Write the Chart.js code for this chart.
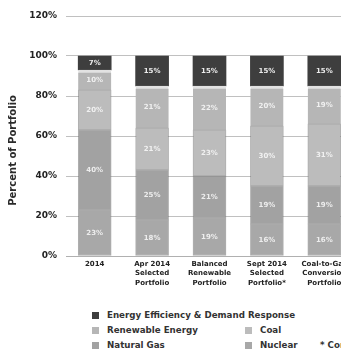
<!DOCTYPE html>
<html>
<head>
<meta charset="utf-8">
<script src="https://cdn.jsdelivr.net/npm/chart.js@4/dist/chart.umd.min.js"></script>
<style>
  html, body { margin: 0; padding: 0; background: #fff; }
  #wrap { position: relative; width: 341px; height: 352px; overflow: hidden; background: #fff; }
  #c { position: absolute; left: 0; top: 0; }
  .leg { position: absolute; font: bold 8.7px "DejaVu Sans", sans-serif; color: #333; white-space: nowrap; line-height: 10px; }
  .sw { position: absolute; width: 7px; height: 7px; }
</style>
</head>
<body>
<div id="wrap">
  <canvas id="c" width="370" height="300"></canvas>
  <div id="legend"></div>
</div>
<script>
// Portfolio categories (multi-line axis labels)
const categories = [
  ["2014"],
  ["Apr 2014", "Selected", "Portfolio"],
  ["Balanced", "Renewable", "Portfolio"],
  ["Sept 2014", "Selected", "Portfolio*"],
  ["Coal-to-Gas", "Conversion", "Portfolio"]
];

// Share of portfolio by resource type, in percent
const nuclear    = [23, 18, 19, 16, 16];
const naturalGas = [40, 25, 21, 19, 19];
const coal       = [20, 21, 23, 30, 31];
const renewable  = [10, 21, 22, 20, 19];
const efficiency = [7, 15, 15, 15, 15];

// Value axis
const yTicks = [0, 20, 40, 60, 80, 100, 120];

const seriesNames = {
  efficiency: "Energy Efficiency & Demand Response",
  renewable: "Renewable Energy",
  coal: "Coal",
  naturalGas: "Natural Gas",
  nuclear: "Nuclear"
};
const footnote = "* Contingent on approval";

const colors = {
  efficiency: "#3e3e3e",
  renewable: "#b6b6b6",
  coal: "#bcbcbc",
  naturalGas: "#a2a2a2",
  nuclear: "#a8a8a8"
};

const datasets = [
  { key: "nuclear", data: nuclear },
  { key: "naturalGas", data: naturalGas },
  { key: "coal", data: coal },
  { key: "renewable", data: renewable },
  { key: "efficiency", data: efficiency }
].map(d => ({
  label: seriesNames[d.key],
  data: d.data,
  backgroundColor: colors[d.key],
  borderColor: d.key === "renewable" ? "#e2e2e2" : "rgba(110,110,110,0.55)",
  borderWidth: d.key === "renewable" ? { top: 3, left: 0, right: 0, bottom: 0 }
             : (d.key === "efficiency" ? 0 : 1),
  borderSkipped: false,
  barThickness: 33
}));

// Percent labels centred in each stacked segment
const segmentLabels = {
  id: "segmentLabels",
  afterDatasetsDraw(chart) {
    const ctx = chart.ctx;
    ctx.save();
    ctx.font = "bold 7px 'DejaVu Sans', sans-serif";
    ctx.textAlign = "center";
    ctx.textBaseline = "middle";
    chart.data.datasets.forEach((ds, i) => {
      const meta = chart.getDatasetMeta(i);
      meta.data.forEach((bar, j) => {
        const v = ds.data[j];
        const cy = (bar.y + bar.base) / 2;
        ctx.fillStyle = i === 4 ? "rgba(255,255,255,0.9)" : "rgba(250,250,250,0.85)";
        ctx.fillText(v + "%", bar.x, cy);
      });
    });
    ctx.restore();
  }
};

// Rotated value-axis title
const axisTitle = {
  id: "axisTitle",
  afterDraw(chart) {
    const ctx = chart.ctx;
    const a = chart.chartArea;
    ctx.save();
    ctx.translate(13, a.top + (a.bottom - a.top) * 0.56);
    ctx.rotate(-Math.PI / 2);
    ctx.font = "bold 10px 'DejaVu Sans', sans-serif";
    ctx.fillStyle = "#2a2a2a";
    ctx.textAlign = "center";
    ctx.textBaseline = "middle";
    ctx.fillText("Percent of Portfolio", 0, 0);
    ctx.restore();
  }
};

new Chart(document.getElementById("c"), {
  type: "bar",
  data: { labels: categories, datasets },
  options: {
    responsive: false,
    animation: false,
    layout: { padding: { top: 16, right: 17, left: 0, bottom: 0 } },
    plugins: { legend: { display: false }, tooltip: { enabled: false } },
    scales: {
      x: {
        stacked: true,
        grid: { display: false, drawTicks: false },
        border: { display: true, color: "#b0b0b0" },
        ticks: {
          color: "#222",
          font: { family: "DejaVu Sans", size: 7, weight: "bold", lineHeight: 1.3 },
          padding: 4,
          maxRotation: 0,
          autoSkip: false
        },
        afterFit(s) { s.height = 44; }
      },
      y: {
        stacked: true,
        min: yTicks[0],
        max: yTicks[yTicks.length - 1],
        afterBuildTicks(s) { s.ticks = yTicks.map(v => ({ value: v })); },
        grid: { color: "#c0c0c0", lineWidth: 1, drawTicks: false },
        border: { display: false },
        ticks: {
          color: "#222",
          font: { family: "DejaVu Sans", size: 9, weight: "bold" },
          padding: 9,
          callback: v => v + "%"
        },
        afterFit(s) { s.width = 66; }
      }
    }
  },
  plugins: [segmentLabels, axisTitle]
});

// Legend laid out in rows beneath the chart
const legendItems = [
  { key: "efficiency", row: 0, col: 0 },
  { key: "renewable", row: 1, col: 0 },
  { key: "coal", row: 1, col: 1 },
  { key: "naturalGas", row: 2, col: 0 },
  { key: "nuclear", row: 2, col: 1 }
];
const rowY = [315, 330, 345];
const colX = [92, 245];
const legend = document.getElementById("legend");
legendItems.forEach(it => {
  const sw = document.createElement("div");
  sw.className = "sw";
  sw.style.left = colX[it.col] + "px";
  sw.style.top = (rowY[it.row] - 3.5) + "px";
  sw.style.background = colors[it.key];
  legend.appendChild(sw);
  const t = document.createElement("div");
  t.className = "leg";
  t.style.left = (colX[it.col] + 15) + "px";
  t.style.top = (rowY[it.row] - 5) + "px";
  t.textContent = seriesNames[it.key];
  legend.appendChild(t);
});
const fn = document.createElement("div");
fn.className = "leg";
fn.style.left = "320px";
fn.style.top = (rowY[2] - 5) + "px";
fn.textContent = footnote;
legend.appendChild(fn);
</script>
</body>
</html>
